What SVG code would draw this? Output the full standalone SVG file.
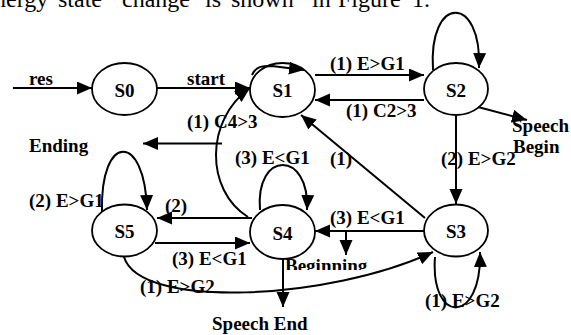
<svg xmlns="http://www.w3.org/2000/svg" width="571" height="335" viewBox="0 0 571 335">
<defs>
<marker id="ah" markerUnits="userSpaceOnUse" markerWidth="16" markerHeight="14" refX="15" refY="6.5" orient="auto">
<path d="M0,0 L15,6.5 L0,13 z" fill="#000"/>
</marker>
<clipPath id="clipBeg"><rect x="270" y="240" width="120" height="30"/></clipPath>
</defs>
<style>
.node ellipse{fill:#fff;stroke:#000;stroke-width:1.8}
.lbl{font-family:"Liberation Serif","Times New Roman",serif;font-weight:bold;font-size:19px;fill:#000}
.nt{text-anchor:middle}
.edge{fill:none;stroke:#000;stroke-width:2;marker-end:url(#ah)}
.top{font-family:"Liberation Serif","Times New Roman",serif;font-size:24px;fill:#000}
</style>
<rect width="571" height="335" fill="#fff"/>
<g id="caption" class="top">
<text x="-6" y="7">nergy</text>
<text x="58" y="7">state</text>
<text x="122" y="7">change</text>
<text x="205" y="7">is</text>
<text x="231" y="7">shown</text>
<text x="312" y="7">in</text>
<text x="338" y="7">Figure</text>
<text x="412" y="7">1.</text>
</g>
<g id="connectors">
<path class="edge" d="M13,88 L92,88"/>
<path class="edge" d="M157,88 L250,88"/>
<path class="edge" d="M252,75 C256,66 262,66 272,66 L304,70"/>
<path class="edge" d="M315,75 L424,75"/>
<path class="edge" d="M424,100 L315,100"/>
<path class="edge" d="M433,70 C428,-6 482,-6 479,68"/>
<path class="edge" d="M478,107 L527,120"/>
<path class="edge" d="M456,115 L456,204"/>
<path class="edge" d="M425,218 L301,115"/>
<path class="edge" d="M424,231 L315,231"/>
<path class="edge" d="M346,231 L346,255"/>
<path class="edge" d="M435,257 C430,325 482,325 480,252"/>
<path class="edge" d="M248,217 C205,190 205,120 250,88"/>
<path class="edge" d="M222,143.5 L143,143.5"/>
<path class="edge" d="M260,210 C255,150 310,150 307,210"/>
<path class="edge" d="M252,218 L157,218"/>
<path class="edge" d="M155,243 L250,243"/>
<path class="edge" d="M102,212 C100,132 145,132 147,210"/>
<path class="edge" d="M124,257 C140,310 330,300 433,252"/>
<path class="edge" d="M283,259 L283,307"/>
</g>
<g id="S0" class="node"><ellipse cx="124.5" cy="89" rx="32.5" ry="26"/><text class="lbl nt" x="124.5" y="97">S0</text></g>
<g id="S1" class="node"><ellipse cx="282.5" cy="90" rx="32.5" ry="27" style="fill:none"/><text class="lbl nt" x="282.5" y="97">S1</text></g>
<g id="S2" class="node"><ellipse cx="456" cy="89" rx="32" ry="26" style="fill:none"/><text class="lbl nt" x="456" y="97">S2</text></g>
<g id="S3" class="node"><ellipse cx="456" cy="230.5" rx="32" ry="26"/><text class="lbl nt" x="456" y="238">S3</text></g>
<g id="S4" class="node"><ellipse cx="282.5" cy="232" rx="32.5" ry="27"/><text class="lbl nt" x="282.5" y="240">S4</text></g>
<g id="S5" class="node"><ellipse cx="124.5" cy="230.5" rx="32.5" ry="26"/><text class="lbl nt" x="124.5" y="238">S5</text></g>
<g id="labels" class="lbl">
<text x="29" y="85">res</text>
<text x="187" y="85">start</text>
<text x="330" y="70">(1) E&gt;G1</text>
<text x="346" y="117">(1) C2&gt;3</text>
<text x="512" y="132">Speech</text>
<text x="513" y="153">Begin</text>
<text x="187" y="128">(1) C4&gt;3</text>
<text x="29" y="152">Ending</text>
<text x="235" y="164">(3) E&lt;G1</text>
<text x="330" y="165">(1)</text>
<text x="441" y="165">(2) E&gt;G2</text>
<text x="29" y="207">(2) E&gt;G1</text>
<text x="165" y="212">(2)</text>
<text x="330" y="224">(3) E&lt;G1</text>
<text x="172" y="265">(3) E&lt;G1</text>
<text x="285" y="272" clip-path="url(#clipBeg)">Beginning</text>
<text x="140" y="293">(1) E&gt;G2</text>
<text x="425" y="307">(1) E&gt;G2</text>
<text x="212" y="330">Speech End</text>
</g>
</svg>
